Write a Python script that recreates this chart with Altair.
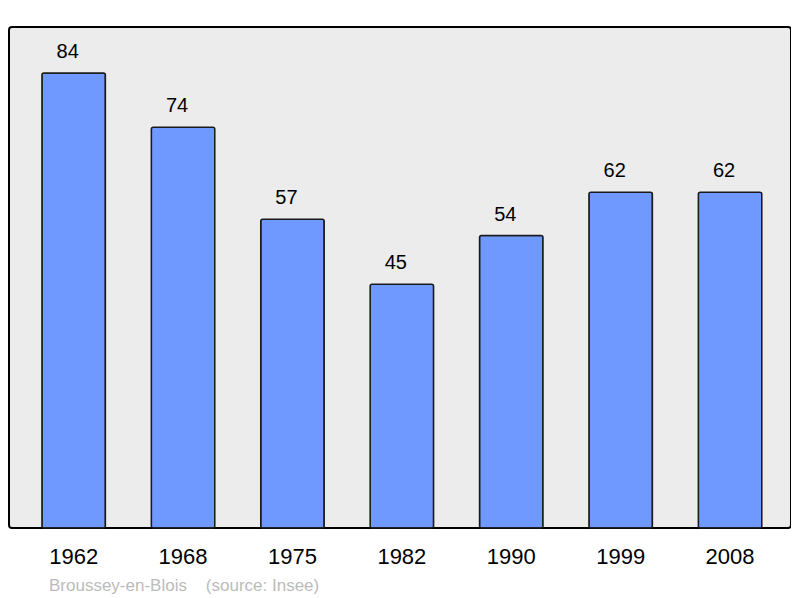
import altair as alt
import pandas as pd

years = ["1962", "1968", "1975", "1982", "1990", "1999", "2008"]
population = [84, 74, 57, 45, 54, 62, 62]
source_label = ["Broussey-en-Blois\u00a0\u00a0\u00a0\u00a0(source: Insee)"]

df = pd.DataFrame({"year": years, "pop": population})
src = pd.DataFrame({"t": source_label})

FONT = "Liberation Sans"

x = alt.X("year:N", sort=years, title=None,
          scale=alt.Scale(paddingInner=0.42, paddingOuter=0.284, align=0.53),
          axis=alt.Axis(labelAngle=0, labelFontSize=22, labelFont=FONT,
                        labelColor="#000", labelPadding=18, domain=False,
                        ticks=False))
y = alt.Y("pop:Q", title=None, scale=alt.Scale(domain=[0, 92.5], nice=False),
          axis=None)

bars = alt.Chart(df).mark_bar(color="#7099ff", stroke="#1a1a1a",
                              strokeWidth=1.5, cornerRadius=2).encode(x=x, y=y)

labels = alt.Chart(df).mark_text(font=FONT, fontSize=20, color="#000",
                                 baseline="alphabetic", dy=-15, dx=-6).encode(
    x=x, y=y, text="pop:Q")

source = alt.Chart(src).mark_text(font=FONT, fontSize=17, color="#bbbbbb",
                                  align="left", baseline="alphabetic").encode(
    x=alt.value(40), y=alt.value(564), text="t:N")

chart = alt.layer(bars, labels, source).properties(
    width=782, height=501,
    padding={"left": 1, "top": 19, "right": 0, "bottom": 0},
    background="white",
).configure_view(
    fill="#ececec", stroke="#000", strokeWidth=2, cornerRadius=3
)

chart.save("out.html", embed_options={"renderer": "svg", "actions": False})
